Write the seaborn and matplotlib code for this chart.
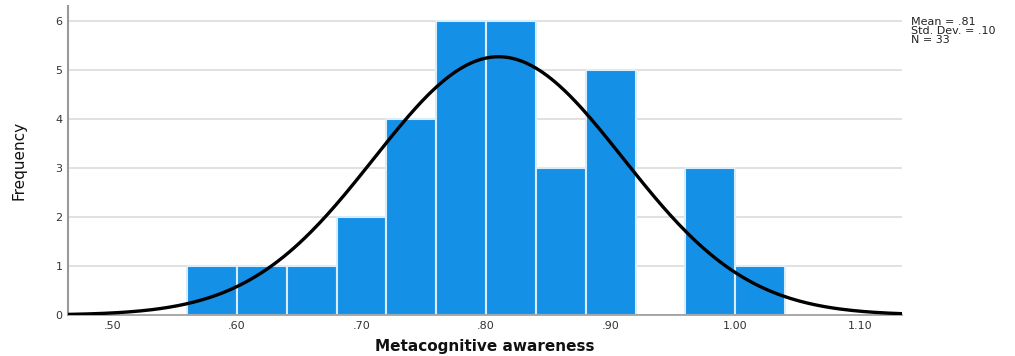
import numpy as np
import pandas as pd
import seaborn as sns
import matplotlib.pyplot as plt

# Histogram bins (width .04) and counts
bin_edges = [0.56, 0.60, 0.64, 0.68, 0.72, 0.76, 0.80, 0.84, 0.88, 0.92, 0.96, 1.00, 1.04]
counts = [1, 1, 1, 2, 4, 6, 6, 3, 5, 0, 3, 1]
mean_val = 0.81
std_val = 0.10
n_obs = 33
x_ticks = [0.50, 0.60, 0.70, 0.80, 0.90, 1.00, 1.10]
x_tick_labels = ['.50', '.60', '.70', '.80', '.90', '1.00', '1.10']
y_ticks = [0, 1, 2, 3, 4, 5, 6]

centers = [(a + b) / 2 for a, b in zip(bin_edges[:-1], bin_edges[1:])]
df = pd.DataFrame({'value': centers, 'count': counts})

sns.set_style('white')
plt.rcParams['font.family'] = ['DejaVu Sans']

fig = plt.figure(figsize=(10.15, 3.56), dpi=100)
ax = fig.add_axes([0.067, 0.115, 0.822, 0.868])

for yv in y_ticks[1:]:
    ax.axhline(yv, color='#dcdcdc', lw=1.2, zorder=0)

sns.histplot(data=df, x='value', weights='count', bins=bin_edges, color='#1490e6',
             edgecolor='#d8ecfa', linewidth=1.5, alpha=1, ax=ax, zorder=2)

# fitted normal curve
bw = bin_edges[1] - bin_edges[0]
xs = np.linspace(0.4645, 1.134, 300)
ys = n_obs * bw / (std_val * np.sqrt(2 * np.pi)) * np.exp(-0.5 * ((xs - mean_val) / std_val) ** 2)
sns.lineplot(x=xs, y=ys, color='black', lw=2.4, ax=ax, zorder=3)

ax.set_xlim(0.4645, 1.134)
ax.set_ylim(0, 6.3)
ax.set_xticks(x_ticks)
ax.set_xticklabels(x_tick_labels)
ax.set_yticks(y_ticks)
ax.tick_params(length=0, labelsize=8, colors='#333333', pad=4)
for s in ['top', 'right']:
    ax.spines[s].set_visible(False)
ax.spines['left'].set_color('#999999')
ax.spines['left'].set_linewidth(1.5)
ax.spines['bottom'].set_color('#999999')
ax.spines['bottom'].set_linewidth(1.2)

ax.set_xlabel('Metacognitive awareness', fontsize=11, fontweight='bold', color='#111111')
ax.xaxis.set_label_coords(0.5, -0.078)
ax.set_ylabel('Frequency', fontsize=11, color='#111111')
ax.yaxis.set_label_coords(-0.05, 0.5)

fig.text(0.898, 0.953, 'Mean = .81\nStd. Dev. = .10\nN = 33', fontsize=8,
         va='top', ha='left', linespacing=0.92, color='#222222')

fig.savefig('out.png', dpi=100)
